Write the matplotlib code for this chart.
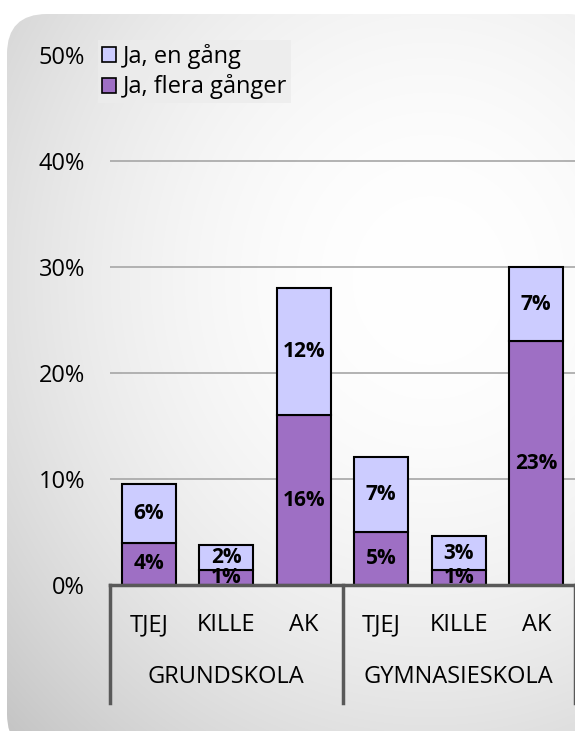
import numpy as np
import matplotlib
matplotlib.use("Agg")
import matplotlib.pyplot as plt
from matplotlib.patches import FancyBboxPatch, Patch
from matplotlib.lines import Line2D

plt.rcParams['font.family'] = ['Open Sans', 'DejaVu Sans']

# data
categories = ['TJEJ', 'KILLE', 'AK', 'TJEJ', 'KILLE', 'AK']
groups = ['GRUNDSKOLA', 'GYMNASIESKOLA']
flera = [4.0, 1.4, 16.0, 5.0, 1.4, 23.0]
en_gang = [5.5, 2.4, 12.0, 7.1, 3.2, 7.0]
flera_lbl = ['4%', '1%', '16%', '5%', '1%', '23%']
en_lbl = ['6%', '2%', '12%', '7%', '3%', '7%']
yticks = [0, 10, 20, 30, 40, 50]

W, H = 575, 731
fs = 17
fig = plt.figure(figsize=(W / 100, H / 100), dpi=100)
fig.patch.set_facecolor('white')

# background panel with radial gradient
bg = fig.add_axes([0, 0, 1, 1], zorder=-5)
bg.set_xlim(0, W)
bg.set_ylim(H, 0)
bg.axis('off')
yy, xx = np.mgrid[0:H, 0:W]
r = np.sqrt(((xx - 430) / 480.0) ** 2 + ((yy - 280) / 520.0) ** 2)
shade = 1.0 - 0.15 * np.clip(r, 0, 1.3) ** 2
img = bg.imshow(np.dstack([shade, shade, shade]), extent=(0, W, H, 0), zorder=0)
box = FancyBboxPatch((7, 14), 600, 740, boxstyle='round,pad=0,rounding_size=40',
                     facecolor='none', edgecolor='none')
bg.add_patch(box)
img.set_clip_path(box)

# main axes
x0, y0, y50 = 110, 585, 55
ax = fig.add_axes([x0 / W, (H - y0) / H, (W - x0) / W, (y0 - y50) / H])
ax.patch.set_alpha(0)
ax.set_xlim(-0.5, 5.5)
ax.set_ylim(0, 50)
x = np.arange(len(categories))

for v in yticks[1:-1]:
    ax.axhline(v, color='#a6a6a6', lw=1.2, zorder=1)

ax.bar(x, flera, 0.7, color='#9e6fc4', edgecolor='black', lw=1.5, zorder=3)
ax.bar(x, en_gang, 0.7, bottom=flera, color='#ccccff', edgecolor='black', lw=1.5, zorder=3)

for i in x:
    ax.text(i, flera[i] / 2, flera_lbl[i], ha='center', va='center',
            fontsize=15, fontweight='bold', zorder=4)
    ax.text(i, flera[i] + en_gang[i] / 2, en_lbl[i], ha='center', va='center',
            fontsize=15, fontweight='bold', zorder=4)

ax.set_yticks(yticks)
ax.set_yticklabels([f'{v}%' for v in yticks], fontsize=fs)
ax.tick_params(axis='y', length=0, pad=18)
ax.set_xticks([])
for s in ['left', 'right', 'top']:
    ax.spines[s].set_visible(False)
ax.spines['bottom'].set_color('#595959')
ax.spines['bottom'].set_linewidth(2.5)
ax.spines['bottom'].set_zorder(5)

# multi-level category axis
ppx = 72 / 100
for xs in [-0.5, 2.5, 5.5]:
    ax.add_line(Line2D([xs, xs], [0, -118 / (y0 - y50)], color='#595959', lw=2.5,
                       transform=ax.get_xaxis_transform(), clip_on=False))
for i, c in enumerate(categories):
    ax.annotate(c, xy=(i, 0), xycoords=('data', 'axes fraction'),
                xytext=(0, -40 * ppx), textcoords='offset points',
                ha='center', va='center', fontsize=fs)
for g, gx in zip(groups, [1, 4]):
    ax.annotate(g, xy=(gx, 0), xycoords=('data', 'axes fraction'),
                xytext=(0, -92 * ppx), textcoords='offset points',
                ha='center', va='center', fontsize=fs)

handles = [Patch(facecolor='#ccccff', edgecolor='black', lw=1.2, label='Ja, en gång'),
           Patch(facecolor='#9e6fc4', edgecolor='black', lw=1.2, label='Ja, flera gånger')]
leg = fig.legend(handles=handles, loc='upper left', bbox_to_anchor=(98 / W, 1 - 40 / H),
                 fontsize=fs, frameon=True, fancybox=False, handlelength=0.6,
                 handleheight=0.6, handletextpad=0.3, borderpad=0.15, labelspacing=0.25,
                 borderaxespad=0)
leg.get_frame().set_facecolor('#ececec')
leg.get_frame().set_edgecolor('none')
leg.get_frame().set_alpha(0.8)

fig.savefig('out.png', dpi=100)
